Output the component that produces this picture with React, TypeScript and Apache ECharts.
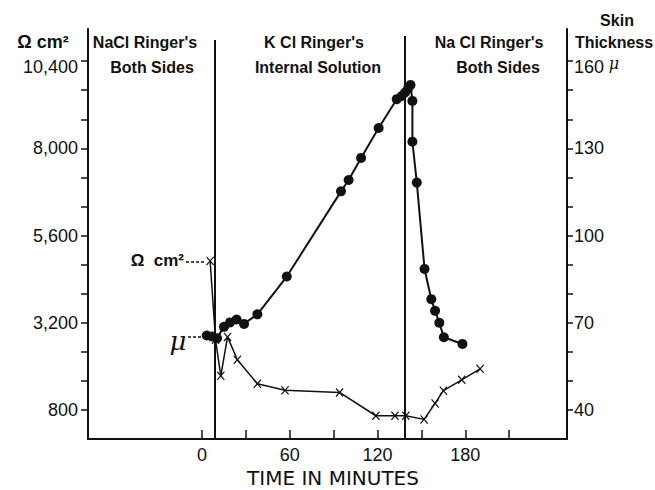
import React, { useEffect, useRef } from "react";
import * as echarts from "echarts";

// Skin thickness (µ, right axis) — filled dots
const thicknessTime = [3.2, 6.8, 10.2, 15.0, 19.1, 23.6, 28.7, 37.8, 57.9, 95.0, 100.2, 108.7, 120.7, 133.1, 136.5, 138.8, 140.8, 142.5, 143.8, 143.8, 146.8, 152.1, 156.7, 159.3, 162.2, 165.3, 178.0];
const thicknessMicrons = [65.6, 65.3, 64.7, 68.6, 70.1, 71.1, 69.6, 72.9, 85.9, 115.2, 119.1, 126.7, 137.0, 146.9, 148.0, 149.2, 150.6, 151.8, 146.3, 132.3, 118.2, 88.5, 78.1, 74.1, 70.0, 65.0, 62.7];

// Resistance (Ω cm², left axis) — x markers
const resistanceTime = [5.5, 9.2, 12.8, 17.4, 24.1, 37.8, 56.7, 94.0, 118.8, 131.9, 139.3, 151.8, 159.3, 165.0, 177.5, 190.1];
const resistanceOhmCm2 = [4900, 2730, 1740, 2810, 2180, 1520, 1340, 1280, 640, 640, 640, 540, 980, 1330, 1630, 1930];

// Axis ticks / labels
const timeTicks = [0, 30, 60, 90, 120, 150, 180, 210];
const timeLabels = [0, 60, 120, 180];
const ohmTicks = [800, 1600, 2400, 3200, 4000, 4800, 5600, 6400, 7200, 8000, 8800, 9600, 10400];
const ohmLabels = [800, 3200, 5600, 8000, 10400];
const micronTicks = [40, 50, 60, 70, 80, 90, 100, 110, 120, 130, 140, 150, 160];
const micronLabels = [40, 70, 100, 130, 160];

// Solution changes (minutes) and the resistance value where each divider line starts
const phaseChangeTimes = [8.5, 138.4];
const phaseChangeTops = [10980, 11090];

const phaseTitles = [
  ["NaCl Ringer's", "Both Sides"],
  ["K Cl Ringer's", "Internal Solution"],
  ["Na Cl Ringer's", "Both Sides"],
];

const FONT = "'Liberation Sans', Arial, sans-serif";

export default function App() {
  const ref = useRef<HTMLDivElement>(null);

  useEffect(() => {
    document.body.style.margin = "0";
    const chart = echarts.init(ref.current!, null, { renderer: "svg" });

    const labelStyle = { fontFamily: FONT, fontSize: 18, color: "#111" };
    const headStyle = (x: number, y: number, text: string, size = 16) => ({
      type: "text",
      x,
      y,
      style: {
        text,
        fontFamily: FONT,
        fontSize: size,
        fontWeight: "bold",
        fill: "#111",
        align: "center",
        verticalAlign: "middle",
      },
    });

    const headerCenters = [
      [145, 152],
      [314, 318],
      [489, 498],
    ];

    const graphic: any[] = [];
    phaseTitles.forEach((t, i) => {
      graphic.push(headStyle(headerCenters[i][0], 42, t[0]));
      graphic.push(headStyle(headerCenters[i][1], 67, t[1]));
    });
    graphic.push(headStyle(43, 42, "Ω cm²", 18));
    graphic.push(headStyle(617, 20, "Skin"));
    graphic.push(headStyle(614, 42, "Thickness"));
    graphic.push({
      type: "text",
      x: 614,
      y: 63,
      style: {
        text: "μ",
        fontFamily: "'DejaVu Serif', serif",
        fontStyle: "italic",
        fontSize: 16,
        fill: "#111",
        align: "center",
        verticalAlign: "middle",
      },
    });
    // series annotation labels
    graphic.push({
      type: "text",
      x: 184,
      y: 260,
      style: {
        text: "Ω  cm²",
        fontFamily: FONT,
        fontSize: 17,
        fontWeight: "bold",
        fill: "#111",
        align: "right",
        verticalAlign: "middle",
      },
    });
    graphic.push({
      type: "line",
      shape: { x1: 186, y1: 262, x2: 206, y2: 262 },
      style: { stroke: "#111", lineWidth: 1.5, lineDash: [3, 2] },
    });
    graphic.push({
      type: "text",
      x: 178,
      y: 341,
      style: {
        text: "μ",
        fontFamily: "'DejaVu Serif', serif",
        fontStyle: "italic",
        fontSize: 26,
        fill: "#111",
        align: "center",
        verticalAlign: "middle",
      },
    });
    graphic.push({
      type: "line",
      shape: { x1: 188, y1: 337, x2: 203, y2: 337 },
      style: { stroke: "#111", lineWidth: 1.5, lineDash: [3, 2] },
    });
    graphic.push({
      type: "text",
      x: 333,
      y: 478,
      style: {
        text: "TIME IN MINUTES",
        fontFamily: "'DejaVu Sans', sans-serif",
        fontSize: 20,
        fill: "#111",
        align: "center",
        verticalAlign: "middle",
      },
    });

    const fmt = (v: number) => v.toLocaleString("en-US");
    const topRich = { low: { fontFamily: FONT, fontSize: 18, color: "#111", padding: [12, 0, 0, 0] } };

    chart.setOption({
      animation: false,
      backgroundColor: "#fff",
      grid: { left: 88, right: 88, top: 29, bottom: 51, containLabel: false },
      xAxis: {
        type: "value",
        min: -78,
        max: 249.5,
        axisLine: { show: true, onZero: false, lineStyle: { color: "#111", width: 2 } },
        axisTick: {
          show: true,
          inside: true,
          length: 9,
          lineStyle: { color: "#111", width: 1.5 },
          customValues: timeTicks,
        },
        axisLabel: { ...labelStyle, margin: 7, customValues: timeLabels },
        splitLine: { show: false },
      },
      yAxis: [
        {
          type: "value",
          position: "left",
          min: 0,
          max: 11284,
          axisLine: { show: true, onZero: false, lineStyle: { color: "#111", width: 2 } },
          axisTick: {
            show: true,
            length: 7,
            lineStyle: { color: "#111", width: 1.5 },
            customValues: ohmTicks,
          },
          axisLabel: {
            ...labelStyle,
            margin: 10,
            customValues: ohmLabels,
            formatter: (v: number) => (v === 10400 ? `{low|${fmt(v)}}` : fmt(v)),
            rich: topRich,
          },
          splitLine: { show: false },
        },
        {
          type: "value",
          position: "right",
          min: 30,
          max: 171.05,
          axisLine: { show: true, onZero: false, lineStyle: { color: "#111", width: 2 } },
          axisTick: {
            show: true,
            length: 6,
            lineStyle: { color: "#111", width: 1.5 },
            customValues: micronTicks,
          },
          axisLabel: {
            ...labelStyle,
            margin: 7,
            customValues: micronLabels,
            formatter: (v: number) => (v === 160 ? `{low|${v}}` : String(v)),
            rich: topRich,
          },
          splitLine: { show: false },
        },
      ],
      series: [
        {
          name: "Ω cm²",
          type: "line",
          xAxisIndex: 0,
          yAxisIndex: 0,
          data: resistanceTime.map((t, i) => [t, resistanceOhmCm2[i]]),
          symbol: "path://M0,1 L1,0 L5,4 L9,0 L10,1 L6,5 L10,9 L9,10 L5,6 L1,10 L0,9 L4,5 Z",
          symbolSize: [8, 9],
          itemStyle: { color: "#111" },
          lineStyle: { color: "#111", width: 1.5 },
          z: 2,
          markLine: {
            silent: true,
            symbol: "none",
            label: { show: false },
            lineStyle: { color: "#111", width: 2, type: "solid" },
            data: phaseChangeTimes.map((t, i) => [
              { coord: [t, phaseChangeTops[i]] },
              { coord: [t, 0] },
            ]),
          },
        },
        {
          name: "μ",
          type: "line",
          xAxisIndex: 0,
          yAxisIndex: 1,
          data: thicknessTime.map((t, i) => [t, thicknessMicrons[i]]),
          symbol: "circle",
          symbolSize: 10,
          itemStyle: { color: "#111" },
          lineStyle: { color: "#111", width: 2 },
          z: 3,
        },
      ],
      graphic,
    });

    return () => chart.dispose();
  }, []);

  return (
    <div
      ref={ref}
      style={{ position: "absolute", left: 0, top: 0, width: 655, height: 490, background: "#fff" }}
    />
  );
}
